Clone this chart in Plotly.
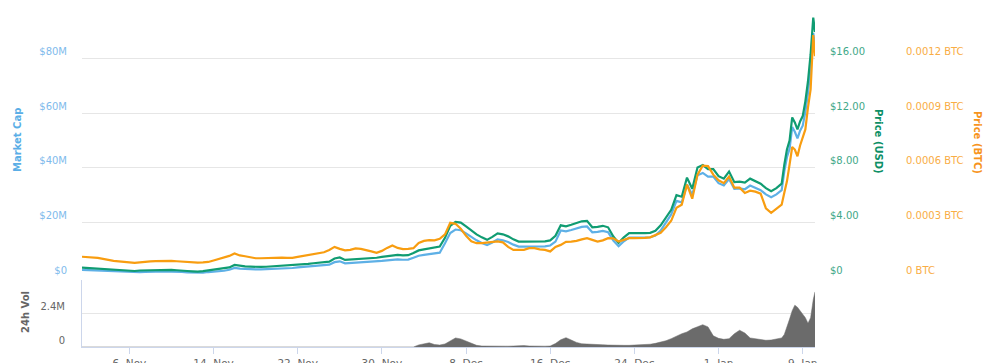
import pandas as pd
import plotly.graph_objects as go

# ---- time axis: 12-hourly samples, then 6-hourly for the final days ----
dates = (list(pd.date_range("2017-11-01 12:00", periods=134, freq="12h"))
         + list(pd.date_range("2018-01-07 06:00", "2018-01-10 00:00", freq="6h"))
         + [pd.Timestamp("2018-01-10 04:00")])

# ---- series values ----
market_cap_musd = [
    2.60, 2.52, 2.38, 2.43, 2.23, 2.09, 2.15, 1.96, 1.82, 1.76,
    1.68, 1.82, 1.87, 1.82, 1.96, 2.04, 2.04, 1.96, 1.87, 1.87,
    1.68, 1.59, 1.48, 1.62, 1.82, 1.96, 2.09, 2.29, 2.66, 3.35,
    3.07, 2.93, 2.88, 2.79, 2.79, 2.85, 2.93, 3.02, 3.16, 3.21,
    3.30, 3.53, 3.68, 3.82, 4.03, 4.18, 4.32, 4.50, 5.44, 5.74,
    5.00, 5.09, 5.20, 5.30, 5.35, 5.44, 5.65, 5.88, 6.09, 6.24,
    6.47, 6.32, 6.38, 7.06, 7.80, 8.09, 8.38, 8.59, 8.91, 12.33,
    16.13, 17.39, 17.14, 15.97, 14.70, 13.44, 12.49, 11.70, 12.65, 13.76,
    13.44, 12.81, 11.86, 11.16, 11.16, 11.16, 11.22, 11.16, 11.22, 11.54,
    12.96, 17.04, 16.71, 17.21, 17.70, 18.36, 18.53, 16.38, 16.54, 16.88,
    16.38, 13.33, 11.25, 13.07, 14.46, 14.40, 14.46, 14.46, 14.56, 15.22,
    17.04, 20.17, 22.91, 27.87, 27.35, 33.85, 30.09, 37.27, 38.13, 36.75,
    36.75, 34.36, 33.51, 35.90, 32.31, 32.48, 32.14, 33.51, 32.55, 31.80,
    30.26, 29.23, 30.26, 31.80,
    38.70, 43.89, 47.00, 54.94, 53.20, 50.81, 53.58, 55.41, 60.49, 67.40,
    76.70, 89.35, 84.32,
]

price_usd = [
    0.684, 0.662, 0.625, 0.640, 0.588, 0.551, 0.566, 0.515, 0.478, 0.463,
    0.441, 0.478, 0.493, 0.478, 0.515, 0.537, 0.537, 0.515, 0.493, 0.493,
    0.441, 0.419, 0.390, 0.426, 0.478, 0.515, 0.551, 0.603, 0.699, 0.882,
    0.809, 0.772, 0.757, 0.735, 0.735, 0.750, 0.772, 0.794, 0.831, 0.846,
    0.868, 0.882, 0.919, 0.956, 1.007, 1.044, 1.081, 1.125, 1.360, 1.434,
    1.250, 1.272, 1.301, 1.324, 1.338, 1.360, 1.412, 1.471, 1.522, 1.559,
    1.618, 1.581, 1.596, 1.765, 1.949, 2.022, 2.096, 2.147, 2.228, 2.868,
    3.750, 4.044, 3.985, 3.713, 3.419, 3.125, 2.904, 2.721, 2.941, 3.199,
    3.125, 2.978, 2.757, 2.596, 2.596, 2.596, 2.610, 2.596, 2.610, 2.684,
    3.015, 3.787, 3.713, 3.824, 3.934, 4.081, 4.118, 3.640, 3.676, 3.750,
    3.640, 2.963, 2.500, 2.904, 3.213, 3.199, 3.213, 3.213, 3.235, 3.382,
    3.787, 4.338, 4.926, 5.993, 5.882, 7.279, 6.471, 8.015, 8.199, 7.904,
    7.904, 7.390, 7.206, 7.721, 6.949, 6.985, 6.912, 7.206, 7.000, 6.838,
    6.507, 6.287, 6.507, 6.838,
    8.235, 9.338, 10.00, 11.69, 11.32, 10.81, 11.40, 11.79, 12.87, 14.34,
    16.32, 19.01, 17.94,
]

# price in units of 0.0001 BTC
price_btc_e4 = [
    1.114, 1.103, 1.075, 1.048, 0.993, 0.921, 0.882, 0.855, 0.827, 0.811,
    0.772, 0.800, 0.838, 0.855, 0.871, 0.882, 0.882, 0.882, 0.866, 0.838,
    0.816, 0.800, 0.789, 0.800, 0.827, 0.910, 0.993, 1.037, 1.158, 1.296,
    1.186, 1.142, 1.075, 1.031, 1.031, 1.048, 1.059, 1.075, 1.064, 1.048,
    1.048, 1.103, 1.147, 1.197, 1.252, 1.313, 1.362, 1.489, 1.655, 1.544,
    1.461, 1.489, 1.572, 1.544, 1.489, 1.406, 1.324, 1.434, 1.599, 1.737,
    1.599, 1.533, 1.544, 1.583, 1.875, 1.985, 2.030, 2.013, 2.096, 2.344,
    2.978, 2.923, 2.647, 2.261, 1.958, 1.859, 1.864, 1.903, 1.930, 1.958,
    1.903, 1.655, 1.489, 1.489, 1.489, 1.583, 1.583, 1.517, 1.489, 1.406,
    1.655, 1.765, 1.930, 1.947, 1.985, 2.068, 2.134, 2.041, 1.947, 2.013,
    2.134, 2.123, 1.947, 2.041, 2.134, 2.134, 2.134, 2.151, 2.178, 2.289,
    2.427, 2.730, 3.088, 3.805, 3.971, 5.074, 4.302, 5.625, 6.122, 6.094,
    5.625, 5.311, 5.157, 5.515, 4.908, 4.908, 4.616, 4.743, 4.688, 4.577,
    3.778, 3.530, 3.750, 3.971,
    4.633, 5.256, 6.177, 7.142, 7.004, 6.634, 7.225, 7.666, 8.107, 9.320,
    10.313, 13.291, 12.133,
]

volume_musd = [
    0, 0, 0, 0, 0, 0, 0, 0, 0, 0,
    0, 0, 0, 0, 0, 0, 0, 0, 0, 0,
    0, 0, 0, 0, 0, 0, 0, 0, 0, 0,
    0, 0, 0, 0, 0, 0, 0, 0, 0, 0,
    0, 0, 0, 0, 0, 0, 0, 0, 0, 0.03,
    0.03, 0, 0, 0, 0.03, 0.03, 0.03, 0, 0, 0.04,
    0.05, 0.05, 0.04, 0, 0.15, 0.22, 0.30, 0.18, 0.14, 0.22,
    0.45, 0.65, 0.58, 0.42, 0.25, 0.12, 0.07, 0.06, 0.05, 0.05,
    0.06, 0.06, 0.07, 0.09, 0.10, 0.07, 0.05, 0.05, 0.06, 0.07,
    0.25, 0.52, 0.67, 0.50, 0.33, 0.23, 0.20, 0.20, 0.19, 0.16,
    0.14, 0.12, 0.12, 0.12, 0.12, 0.13, 0.15, 0.17, 0.20, 0.26,
    0.33, 0.45, 0.60, 0.80, 0.95, 1.08, 1.30, 1.45, 1.60, 1.44,
    0.80, 0.62, 0.55, 0.60, 0.95, 1.20, 1.00, 0.65, 0.60, 0.52,
    0.48, 0.50, 0.55, 0.65,
    0.90, 1.40, 2.00, 2.60, 3.00, 2.85, 2.60, 2.30, 2.10, 1.70,
    2.10, 3.40, 3.95,
]

x_tick_dates = ["2017-11-06", "2017-11-14", "2017-11-22", "2017-11-30", "2017-12-08",
                "2017-12-16", "2017-12-24", "2018-01-01", "2018-01-09"]
x_tick_labels = ["6. Nov", "14. Nov", "22. Nov", "30. Nov", "8. Dec",
                 "16. Dec", "24. Dec", "1. Jan", "9. Jan"]
mcap_ticks = [0, 20e6, 40e6, 60e6, 80e6, 100e6]
mcap_labels = ["$0", "$20M", "$40M", "$60M", "$80M", ""]
usd_ticks = [0, 4, 8, 12, 16]
usd_labels = ["$0", "$4.00", "$8.00", "$12.00", "$16.00"]
btc_ticks = [0, 0.0003, 0.0006, 0.0009, 0.0012]
btc_labels = ["0 BTC", "0.0003 BTC", "0.0006 BTC", "0.0009 BTC", "0.0012 BTC"]
vol_ticks = [0, 2.4e6, 4.8e6]
vol_labels = ["0", "2.4M", ""]

n = len(dates)
assert all(len(s) == n for s in (market_cap_musd, price_usd, price_btc_e4, volume_musd))

C_MCAP = "#5eb0e6"
C_USD = "#109c72"
C_BTC = "#f89d10"
C_VOL = "#6b6b6b"
FONT = "DejaVu Sans"

fig = go.Figure()
fig.add_trace(go.Scatter(x=dates, y=[v * 1e6 for v in market_cap_musd], mode="lines",
                         line=dict(color=C_MCAP, width=2.2), name="Market Cap",
                         xaxis="x", yaxis="y"))
fig.add_trace(go.Scatter(x=dates, y=price_usd, mode="lines",
                         line=dict(color=C_USD, width=2.2), name="Price (USD)",
                         xaxis="x", yaxis="y2"))
fig.add_trace(go.Scatter(x=dates, y=[v * 1e-4 for v in price_btc_e4], mode="lines",
                         line=dict(color=C_BTC, width=2.2), name="Price (BTC)",
                         xaxis="x", yaxis="y3"))
fig.add_trace(go.Scatter(x=dates, y=[v * 1e6 for v in volume_musd], mode="lines",
                         fill="tozeroy", fillcolor=C_VOL,
                         line=dict(color=C_VOL, width=0.5), name="24h Vol",
                         xaxis="x2", yaxis="y4"))

W, H = 1006, 363
ML, MR, MT, MB = 82, 191, 4, 16
PW, PH = W - ML - MR, H - MT - MB


def px(xp):
    return (xp - ML) / PW


def py(yp):
    return (H - MB - yp) / PH


xrange_ = [dates[0], dates[-1]]
grid = "#e6e6e6"

fig.update_layout(
    width=W, height=H, template="none",
    margin=dict(l=ML, r=MR, t=MT, b=MB, autoexpand=False),
    paper_bgcolor="white", plot_bgcolor="white",
    showlegend=False,
    font=dict(family=FONT, size=10, color="#666666"),
    xaxis=dict(domain=[0, 1], range=xrange_, anchor="y", showticklabels=False,
               showgrid=False, zeroline=False, showline=False, ticks="",
               automargin=False),
    xaxis2=dict(domain=[0, 1], range=xrange_, anchor="y4", matches="x",
                tickvals=x_tick_dates, ticktext=x_tick_labels,
                showgrid=False, zeroline=False, showline=True, linecolor="#ccd6eb",
                linewidth=1, ticks="outside", ticklen=6, tickcolor="#ccd6eb",
                tickfont=dict(family=FONT, size=10.5, color="#666666"),
                automargin=False),
    yaxis=dict(domain=[py(277), 1], range=[0, 100e6], anchor="x",
               tickvals=mcap_ticks, ticktext=mcap_labels,
               showgrid=True, gridcolor=grid, gridwidth=1, zeroline=False,
               showline=False, ticks="", ticklabelposition="outside top",
               ticklabelstandoff=14,
               tickfont=dict(family=FONT, size=10, color="#7fbbec"),
               automargin=False),
    yaxis2=dict(domain=[py(277), 1], range=[0, 20], anchor="x", overlaying="y",
                side="right", tickvals=usd_ticks, ticktext=usd_labels,
                showgrid=False, zeroline=False, showline=False, ticks="",
                ticklabelposition="outside top", ticklabelstandoff=14,
                tickfont=dict(family=FONT, size=10, color="#3fa888"),
                automargin=False),
    yaxis3=dict(domain=[py(277), 1], range=[0, 0.0015], anchor="x", overlaying="y",
                side="right", tickvals=btc_ticks, ticktext=btc_labels,
                showgrid=False, zeroline=False, showline=False, ticks="",
                ticklabelposition="outside top", ticklabelstandoff=90,
                tickfont=dict(family=FONT, size=10, color="#f9ad45"),
                automargin=False),
    yaxis4=dict(domain=[0, py(280)], range=[0, 4.8e6], anchor="x2",
                tickvals=vol_ticks, ticktext=vol_labels,
                showgrid=True, gridcolor=grid, gridwidth=1, zeroline=False,
                showline=True, linecolor="#ccd6eb", linewidth=1, ticks="",
                ticklabelposition="outside top", ticklabelstandoff=14,
                tickfont=dict(family=FONT, size=10, color="#666666"),
                automargin=False),
)

title_font = dict(family=FONT, size=10)
fig.add_annotation(text="<b>Market Cap</b>", xref="paper", yref="paper",
                   x=px(18), y=py(140), textangle=-90, showarrow=False,
                   xanchor="center", yanchor="middle",
                   font=dict(title_font, color="#5aaee6"))
fig.add_annotation(text="<b>Price (USD)</b>", xref="paper", yref="paper",
                   x=px(879), y=py(142), textangle=90, showarrow=False,
                   xanchor="center", yanchor="middle",
                   font=dict(title_font, color="#0e8f66"))
fig.add_annotation(text="<b>Price (BTC)</b>", xref="paper", yref="paper",
                   x=px(978), y=py(142), textangle=90, showarrow=False,
                   xanchor="center", yanchor="middle",
                   font=dict(title_font, color="#f7941d"))
fig.add_annotation(text="<b>24h Vol</b>", xref="paper", yref="paper",
                   x=px(25), y=py(312), textangle=-90, showarrow=False,
                   xanchor="center", yanchor="middle",
                   font=dict(title_font, color="#666666"))

# remove the default page margin so the figure sits at the window's top-left corner
fig.write_html("out.html",
               config={"displayModeBar": False},
               post_script="document.body.style.margin='0px';"
                           "document.body.style.overflow='hidden';")
